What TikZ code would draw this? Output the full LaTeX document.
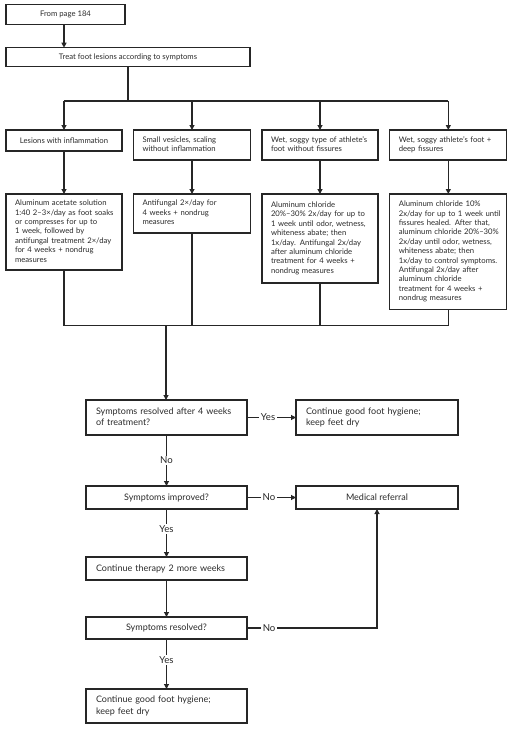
\documentclass[tikz,border=0pt]{standalone}
\usepackage{fontspec}
\setmainfont{Lato}
\usetikzlibrary{arrows.meta}
\definecolor{ln}{HTML}{262626}
\definecolor{tx}{HTML}{2a2a2a}
\newcommand{\topfont}{\fontsize{7.7}{9.4}\selectfont}
\newcommand{\botfont}{\fontsize{9}{11.5}\selectfont}
\newcommand{\mylines}[1]{\begin{tabular}{@{}l@{}}#1\end{tabular}}
\begin{document}
\begin{tikzpicture}[x=1pt,y=-1pt,
  every node/.style={text=tx},
  box/.style={draw=ln, line width=1.1pt, inner ysep=1pt, outer sep=0pt},
  tbox/.style={box, font=\topfont, align=center, inner xsep=2pt},
  tlbox/.style={box, font=\topfont, align=left, inner xsep=9pt},
  bbox/.style={box, font=\botfont, align=center, inner xsep=2pt},
  blbox/.style={box, font=\botfont, align=left, inner xsep=10pt},
  conn/.style={draw=ln, line width=1.1pt},
  arr/.style={conn, -{Triangle[length=5pt,width=5pt]}},
  lab/.style={fill=white, inner sep=1.5pt, font=\fontsize{9.6}{11}\selectfont, text=ln}
]
\useasboundingbox (0,0) rectangle (514,750);

% top
\node[tbox, minimum width=119pt, minimum height=19.5pt] (from) at (65.5,14.5) {From page 184};
\node[tbox, minimum width=244pt, minimum height=19pt] (treat) at (128,57.2) {Treat foot lesions according to symptoms};

% headers
\node[tbox, minimum width=116pt, minimum height=21pt] (h1) at (64,140.5) {Lesions with inflammation};
\node[tlbox, text width=99pt, minimum height=30pt] (h2) at (192,145) {\mylines{Small vesicles, scaling\\without inflammation}};
\node[tlbox, text width=98pt, minimum height=30pt] (h3) at (320,145) {\mylines{Wet, soggy type of athlete’s\\foot without fissures}};
\node[tlbox, text width=99pt, minimum height=30pt] (h4) at (448.3,145) {\mylines{Wet, soggy athlete’s foot +\\deep fissures}};

% treatments
\node[tlbox, text width=98pt, minimum height=76pt] (l1) at (64,232) {\mylines{Aluminum acetate solution\\1:40 2–3×/day as foot soaks\\or compresses for up to\\1 week, followed by\\antifungal treatment 2×/day\\for 4 weeks + nondrug\\measures}};
\node[tlbox, text width=99pt, minimum height=39pt] (l2) at (192,213.5) {\mylines{Antifungal 2×/day for\\4 weeks + nondrug\\measures}};
\node[tlbox, text width=98pt, minimum height=89pt] (l3) at (320,238.5) {\mylines{Aluminum chloride\\20\%–30\% 2x/day for up to\\1 week until odor, wetness,\\whiteness abate; then\\1x/day. Antifungal 2x/day\\after aluminum chloride\\treatment for 4 weeks +\\nondrug measures}};
\node[tlbox, text width=99pt, minimum height=115.5pt] (l4) at (448.3,251.75) {\mylines{Aluminum chloride 10\%\\2x/day for up to 1 week until\\fissures healed. After that,\\aluminum chloride 20\%–30\%\\2x/day until odor, wetness,\\whiteness abate; then\\1x/day to control symptoms.\\Antifungal 2x/day after\\aluminum chloride\\treatment for 4 weeks +\\nondrug measures}};

% bottom
\node[blbox, text width=141pt, minimum height=35pt] (dec1) at (166.5,417.5) {\mylines{Symptoms resolved after 4 weeks\\of treatment?}};
\node[blbox, text width=142pt, minimum height=35pt] (cont1) at (377,417.5) {\mylines{Continue good foot hygiene;\\keep feet dry}};
\node[bbox, minimum width=161pt, minimum height=23pt] (dec2) at (166.5,497.5) {Symptoms improved?};
\node[bbox, minimum width=162pt, minimum height=23pt] (ref) at (377,497.5) {Medical referral};
\node[blbox, text width=141pt, minimum height=23pt] (ther) at (166.5,568.5) {Continue therapy 2 more weeks};
\node[bbox, minimum width=161pt, minimum height=22pt] (dec3) at (166.5,628) {Symptoms resolved?};
\node[blbox, text width=141pt, minimum height=34pt] (final) at (166.5,706) {\mylines{Continue good foot hygiene;\\keep feet dry}};

% coordinates
\coordinate (busT) at (128,101);
\coordinate (busB) at (166,325.5);

% top connectors
\draw[arr] (from.south -| h1.north) -- (treat.north -| h1.north);
\draw[conn] (treat.south) -- (busT);
\draw[conn] (busT -| h1.north) -- (busT -| h4.north);
\foreach \n in {h1,h2,h3,h4} \draw[arr] (busT -| \n.north) -- (\n.north);
\draw[arr] (h1.south) -- (l1.north);
\draw[arr] (h2.south) -- (l2.north);
\draw[arr] (h3.south) -- (l3.north);
\draw[arr] (h4.south) -- (l4.north);
\foreach \n in {l1,l2,l3,l4} \draw[conn] (\n.south) -- (busB -| \n.south);
\draw[conn] (busB -| l1.south) -- (busB -| l4.south);
\draw[arr] (busB) -- (busB |- dec1.north);

% bottom connectors
\draw[arr] (dec1.east) -- node[lab, pos=.43] {Yes} (cont1.west);
\draw[arr] (dec1.south) -- node[lab] {No} (dec2.north);
\draw[arr] (dec2.east) -- node[lab, pos=.45] {No} (ref.west);
\draw[arr] (dec2.south) -- node[lab, pos=.42] {Yes} (ther.north);
\draw[arr] (ther.south) -- (dec3.north);
\draw[arr] (dec3.east) -- node[lab, pos=.17] {No} (dec3.east -| ref.south) -- (ref.south);
\draw[arr] (dec3.south) -- node[lab, pos=.42] {Yes} (final.north);
\end{tikzpicture}
\end{document}
